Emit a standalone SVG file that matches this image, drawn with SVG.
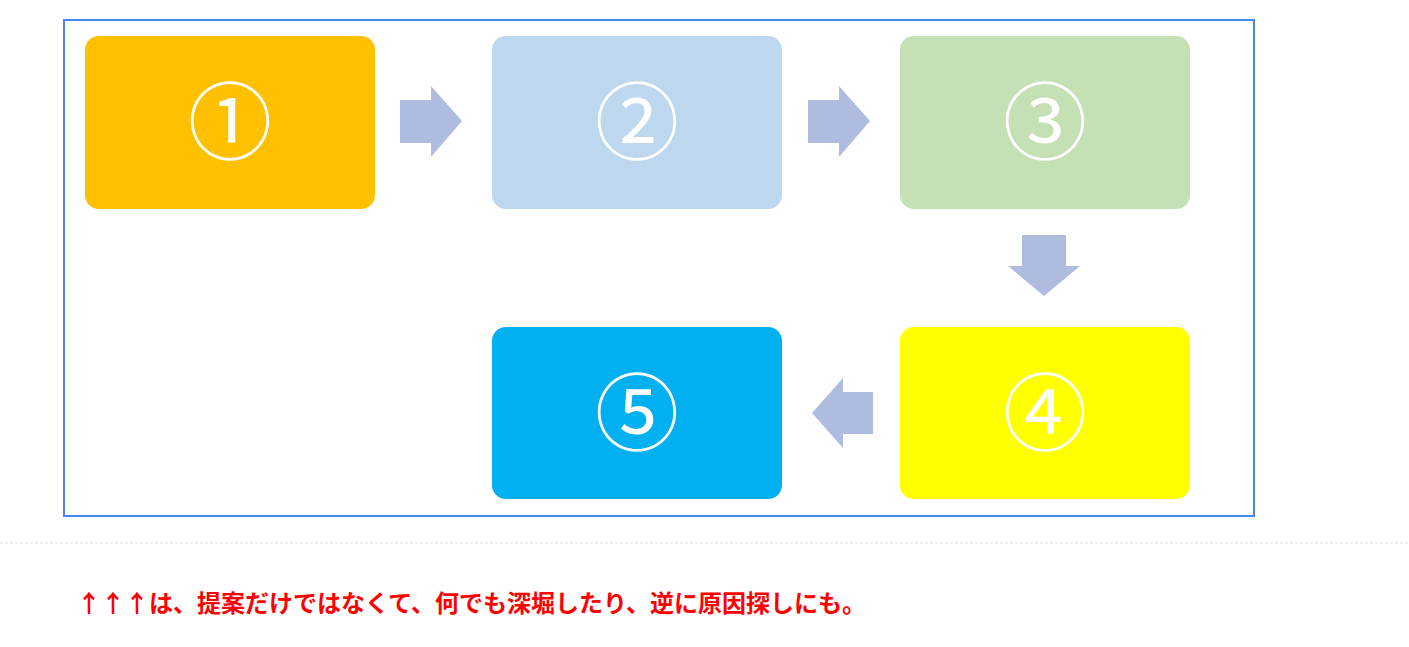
<svg xmlns="http://www.w3.org/2000/svg" width="1409" height="647" viewBox="0 0 1409 647">
<style>
.num{font-family:"Noto Sans CJK JP","DejaVu Sans",sans-serif;font-size:84px;fill:#fff;text-anchor:middle;dominant-baseline:central}
.arr{fill:#b0bcdf}
</style>
<rect x="0" y="0" width="1409" height="647" fill="#fff"/>
<rect x="64" y="20" width="1190" height="496" fill="none" stroke="#4a86e8" stroke-width="2"/>
<line x1="0" y1="543" x2="1409" y2="543" stroke="#ddd" stroke-dasharray="3,2"/>
<g id="n1"><rect x="85" y="36" width="290" height="173" rx="14" fill="#ffc000"/><text class="num" x="230" y="116">①</text></g>
<g id="n2"><rect x="492" y="36" width="290" height="173" rx="14" fill="#bdd7ee"/><text class="num" x="637" y="116">②</text></g>
<g id="n3"><rect x="900" y="36" width="290" height="173" rx="14" fill="#c5e0b4"/><text class="num" x="1045" y="116">③</text></g>
<g id="n4"><rect x="900" y="327" width="290" height="172" rx="14" fill="#ffff00"/><text class="num" x="1045" y="407">④</text></g>
<g id="n5"><rect x="492" y="327" width="290" height="172" rx="14" fill="#00b0f0"/><text class="num" x="637" y="407">⑤</text></g>
<g id="connectors">
<polygon class="arr" points="400,100 431,100 431,86 462,121 431,157 431,143 400,143"/>
<polygon class="arr" points="808,100 839,100 839,86 870,121 839,157 839,143 808,143"/>
<polygon class="arr" points="1022,235 1066,235 1066,266 1080,266 1044,296 1008,266 1022,266"/>
<polygon class="arr" points="873,392 843,392 843,378 812,413 843,448 843,434 873,434"/>
</g>
<text x="77" y="612" font-family="'Noto Sans CJK JP',sans-serif" font-weight="bold" font-size="24" fill="#f00">↑↑↑は、提案だけではなくて、何でも深堀したり、逆に原因探しにも。</text>
</svg>
